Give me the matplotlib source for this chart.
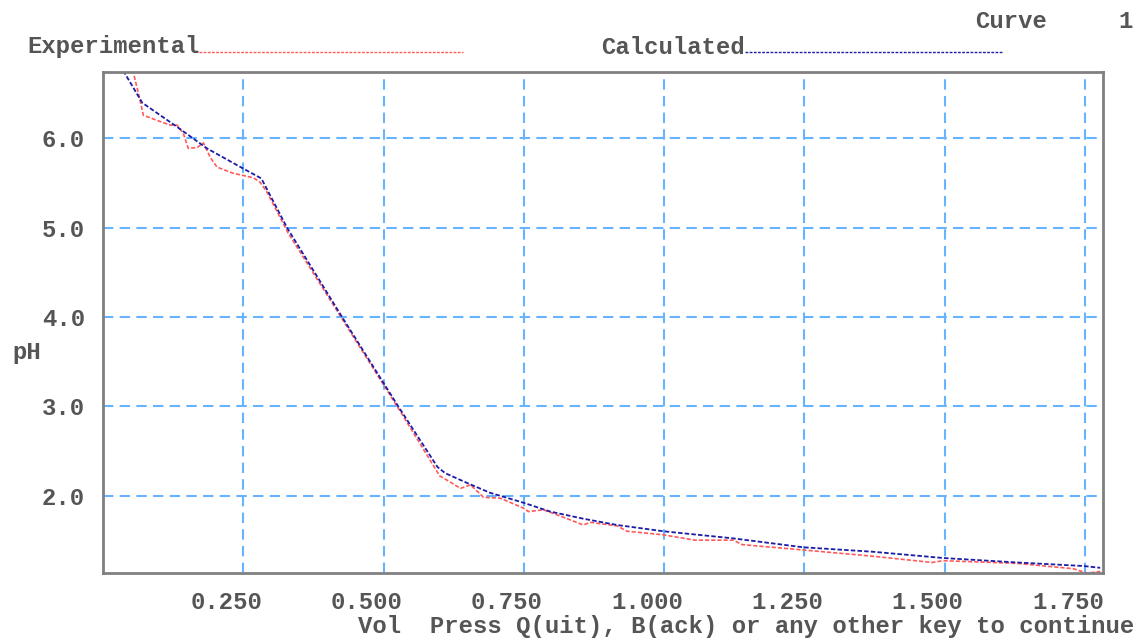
import matplotlib
matplotlib.use('Agg')
import matplotlib.pyplot as plt
import matplotlib.transforms as mtransforms
from matplotlib.lines import Line2D

# Titration curve data (volume vs pH)
vol_calc = [0.036, 0.070, 0.132, 0.185, 0.245, 0.280, 0.284, 0.328, 0.426, 0.526,
            0.596, 0.610, 0.649, 0.690, 0.749, 0.797, 0.856, 0.916, 0.998, 1.123,
            1.248, 1.372, 1.497, 1.629, 1.748, 1.777]
ph_calc = [6.76, 6.40, 6.13, 5.89, 5.68, 5.56, 5.53, 5.00, 4.00, 3.00,
           2.32, 2.25, 2.14, 2.03, 1.92, 1.82, 1.74, 1.67, 1.60, 1.52,
           1.42, 1.37, 1.30, 1.25, 1.21, 1.19]

vol_exp = [0.039, 0.054, 0.063, 0.072, 0.102, 0.120, 0.132, 0.143, 0.152, 0.168,
           0.179, 0.191, 0.203, 0.232, 0.268, 0.280, 0.293, 0.330, 0.430, 0.530,
           0.600, 0.619, 0.637, 0.655, 0.678, 0.708, 0.749, 0.758, 0.785, 0.815,
           0.856, 0.868, 0.916, 0.934, 0.998, 1.055, 1.123, 1.139, 1.248, 1.372,
           1.417, 1.478, 1.497, 1.629, 1.729, 1.754, 1.777]
ph_exp = [6.77, 6.74, 6.51, 6.26, 6.19, 6.15, 6.15, 6.06, 5.89, 5.90,
          5.95, 5.79, 5.68, 5.61, 5.56, 5.51, 5.39, 4.94, 3.94, 2.94,
          2.22, 2.15, 2.08, 2.12, 1.98, 1.97, 1.86, 1.82, 1.84, 1.77,
          1.67, 1.70, 1.66, 1.60, 1.56, 1.50, 1.50, 1.45, 1.39, 1.32,
          1.29, 1.25, 1.27, 1.24, 1.18, 1.13, 1.15]

x_ticks = [0.25, 0.5, 0.75, 1.0, 1.25, 1.5, 1.75]
x_labels = ['0.250', '0.500', '0.750', '1.000', '1.250', '1.500', '1.750']
y_ticks = [2, 3, 4, 5, 6]
y_labels = ['2.0', '3.0', '4.0', '5.0', '6.0']

W, H = 1138, 639
txt = dict(family='Liberation Mono', weight='bold', color='#555555', fontsize=17.2)
red = '#ff5a5a'
blue = '#1c1ca8'

fig = plt.figure(figsize=(W / 100, H / 100), dpi=100)
ax = fig.add_axes([103 / W, (H - 573) / H, 1000 / W, 501 / H])

ax.plot(vol_exp, ph_exp, color=red, linewidth=1.2, linestyle=(0, (2.5, 1.2)))
ax.plot(vol_calc, ph_calc, color=blue, linewidth=1.3, linestyle=(0, (2.5, 1.2)))

ax.set_xlim(0, 1.782)
ax.set_ylim(1.132, 6.745)
ax.set_xticks(x_ticks)
ax.set_xticklabels(x_labels, ha='center', **txt)
ax.set_yticks(y_ticks)
ax.set_yticklabels(y_labels, **txt)
ax.tick_params(length=0)
ax.tick_params(axis='x', pad=13)
ax.tick_params(axis='y', pad=13)

# x labels sit a bit left of their gridline on the original screen
shift = mtransforms.ScaledTranslation(-17 / 100, 0, fig.dpi_scale_trans)
for lab in ax.get_xticklabels():
    lab.set_transform(lab.get_transform() + shift)

ax.grid(True, color='#66b3ff', linewidth=1.5, linestyle=(0, (5, 3)))
ax.set_axisbelow(True)
for sp in ax.spines.values():
    sp.set_color('#808080')
    sp.set_linewidth(2)

# Screen-style annotations
fig.text(12 / W, 1 - 352 / H, 'pH', ha='left', va='center', **txt)
fig.text(358 / W, 1 - 627 / H, 'Vol  Press Q(uit), B(ack) or any other key to continue',
         ha='left', va='center', **txt)
fig.text(975 / W, 1 - 22 / H, 'Curve', ha='left', va='center', **txt)
fig.text(1133 / W, 1 - 22 / H, '1', ha='right', va='center', **txt)
fig.text(27 / W, 1 - 47 / H, 'Experimental', ha='left', va='center', **txt)
fig.text(601 / W, 1 - 47 / H, 'Calculated', ha='left', va='center', **txt)
fig.add_artist(Line2D([199 / W, 463 / W], [1 - 52 / H, 1 - 52 / H], color=red,
                      linewidth=1.0, linestyle=(0, (2, 1))))
fig.add_artist(Line2D([745 / W, 1003 / W], [1 - 52 / H, 1 - 52 / H], color=blue,
                      linewidth=1.0, linestyle=(0, (2, 1))))

fig.savefig('out.png', dpi=100)
